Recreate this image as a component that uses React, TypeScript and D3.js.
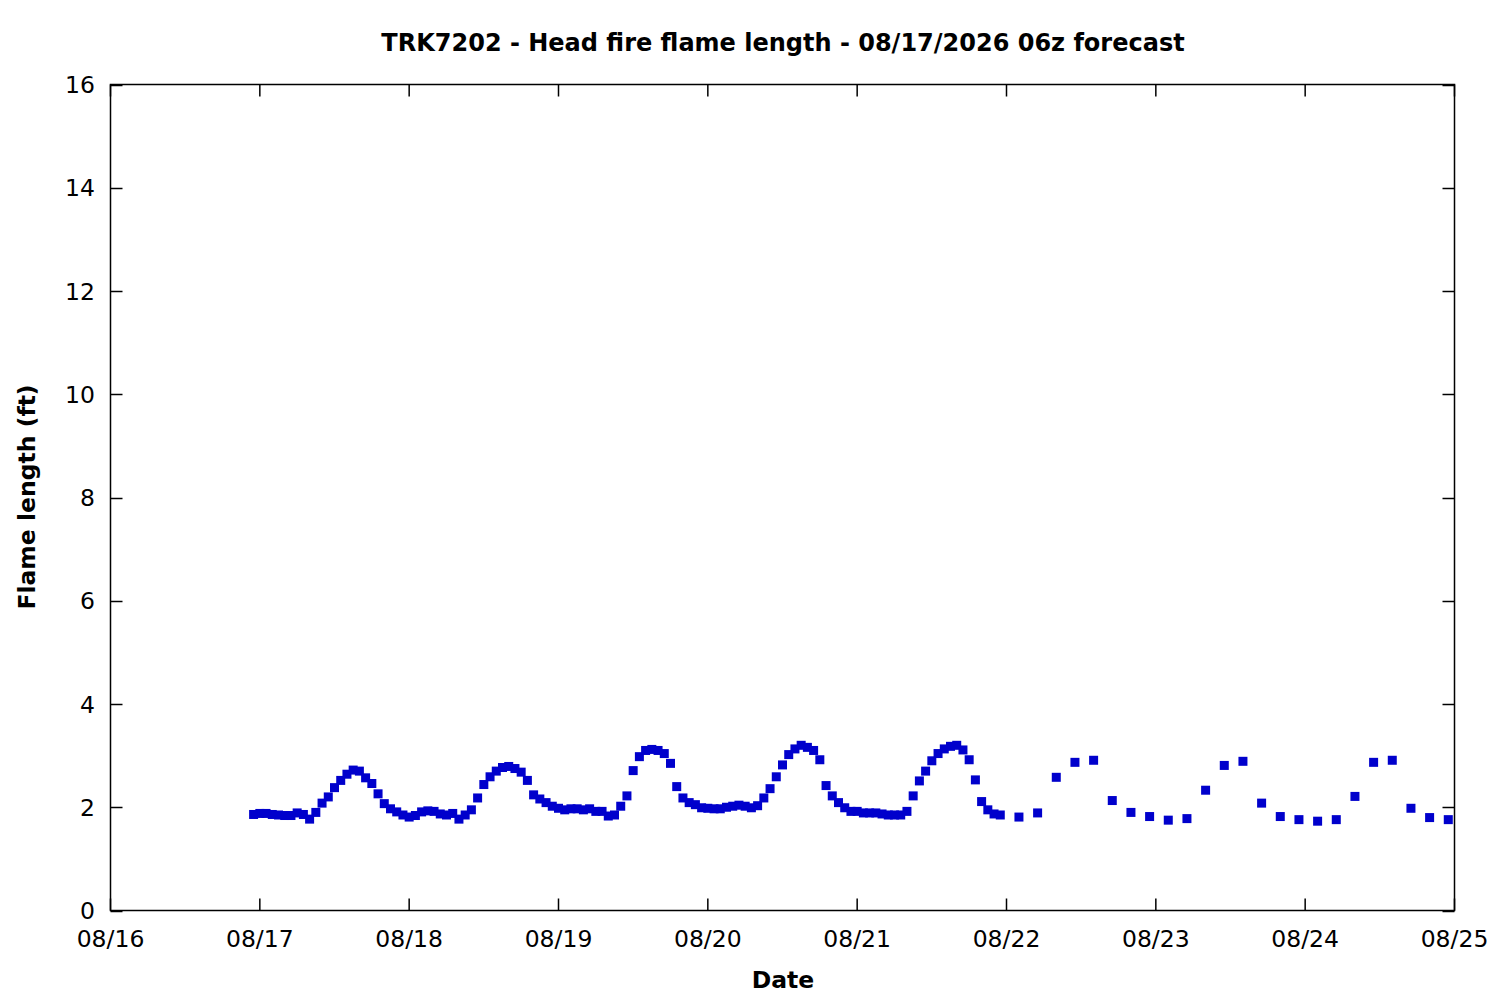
import React from "react";
import * as d3 from "d3";

// Hourly points starting 08/16 23:00 (hours since 08/16 00:00)
const hourlyStart = 23;
const hourlyValues = [
  1.86, 1.88, 1.88, 1.86, 1.85, 1.84, 1.84, 1.89, 1.86, 1.77,
  1.90, 2.08, 2.20, 2.38, 2.52, 2.64, 2.72, 2.70, 2.57, 2.46,
  2.26, 2.07, 1.97, 1.91, 1.85, 1.81, 1.84, 1.91, 1.93, 1.92,
  1.87, 1.85, 1.88, 1.77, 1.85, 1.95, 2.18, 2.44, 2.59, 2.70,
  2.77, 2.79, 2.75, 2.68, 2.52, 2.24, 2.16, 2.09, 2.02, 1.98,
  1.95, 1.97, 1.97, 1.95, 1.97, 1.92, 1.92, 1.83, 1.85, 2.02,
  2.22, 2.71, 2.98, 3.10, 3.12, 3.10, 3.04, 2.85, 2.40, 2.18,
  2.09, 2.05, 1.99, 1.98, 1.97, 1.97, 2.00, 2.02, 2.04, 2.02,
  1.99, 2.03, 2.18, 2.36, 2.59, 2.82, 3.02, 3.13, 3.20, 3.16,
  3.10, 2.92, 2.42, 2.22, 2.09, 1.99, 1.92, 1.92, 1.89, 1.89,
  1.89, 1.87, 1.85, 1.85, 1.85, 1.92, 2.22, 2.51, 2.70, 2.90,
  3.04, 3.13, 3.18, 3.20, 3.11, 2.92, 2.53, 2.11, 1.95, 1.87,
  1.85,
];
// 3-hourly points starting 08/22 02:00
const threeHourlyStart = 146;
const threeHourlyValues = [
  1.81, 1.89, 2.58, 2.87, 2.91, 2.13, 1.90, 1.82,
  1.75, 1.78, 2.33, 2.81, 2.89, 2.08, 1.82, 1.76,
  1.73, 1.76, 2.21, 2.87, 2.91, 1.98, 1.80, 1.76,
];
const dayLabels = ["08/16", "08/17", "08/18", "08/19", "08/20", "08/21", "08/22", "08/23", "08/24", "08/25"];
const yTicks = [0, 2, 4, 6, 8, 10, 12, 14, 16];
const title = "TRK7202 - Head fire flame length - 08/17/2026 06z forecast";
const xTitle = "Date";
const yTitle = "Flame length (ft)";

const W = 1500;
const H = 1000;
const left = 110.5;
const right = 1454.5;
const top = 84.5;
const bottom = 910.5;

export default function App() {
  const x = d3.scaleLinear().domain([0, 24 * (dayLabels.length - 1)]).range([left, right]);
  const y = d3.scaleLinear().domain([0, 16]).range([bottom, top]);

  const points: { h: number; v: number }[] = [];
  hourlyValues.forEach((v, i) => points.push({ h: hourlyStart + i, v }));
  threeHourlyValues.forEach((v, i) => points.push({ h: threeHourlyStart + 3 * i, v }));

  const font = "'DejaVu Sans', sans-serif";
  const tickLen = 12;
  const sq = 9;

  return (
    <svg width={W} height={H} style={{ position: "absolute", left: 0, top: 0, background: "#fff" }}>
      <rect x={0} y={0} width={W} height={H} fill="#fff" />
      <text x={783} y={51} textAnchor="middle" fontFamily={font} fontWeight="bold" fontSize={24}>
        {title}
      </text>
      {/* y ticks */}
      {yTicks.map((t) => (
        <g key={"y" + t}>
          <line x1={left} x2={left + tickLen} y1={Math.round(y(t)) + 0.5} y2={Math.round(y(t)) + 0.5} stroke="#000" strokeWidth={1.5} />
          <line x1={right} x2={right - tickLen} y1={Math.round(y(t)) + 0.5} y2={Math.round(y(t)) + 0.5} stroke="#000" strokeWidth={1.5} />
          <text x={95} y={y(t) + 8.5} textAnchor="end" fontFamily={font} fontSize={23.5}>
            {t}
          </text>
        </g>
      ))}
      {/* x ticks */}
      {dayLabels.map((d, i) => (
        <g key={"x" + d}>
          <line x1={x(i * 24)} x2={x(i * 24)} y1={bottom} y2={bottom - tickLen} stroke="#000" strokeWidth={1.5} />
          <line x1={x(i * 24)} x2={x(i * 24)} y1={top} y2={top + tickLen} stroke="#000" strokeWidth={1.5} />
          <text x={x(i * 24)} y={947} textAnchor="middle" fontFamily={font} fontSize={23.5}>
            {d}
          </text>
        </g>
      ))}
      <rect x={left} y={top} width={right - left} height={bottom - top} fill="none" stroke="#000" strokeWidth={1.5} />
      {points.map((p, i) => (
        <rect key={i} x={x(p.h) - sq / 2} y={y(p.v) - sq / 2} width={sq} height={sq} fill="#0000CC" />
      ))}
      <text x={783} y={988} textAnchor="middle" fontFamily={font} fontWeight="bold" fontSize={23.5}>
        {xTitle}
      </text>
      <text
        transform={`translate(35, 497) rotate(-90)`}
        textAnchor="middle"
        fontFamily={font}
        fontWeight="bold"
        fontSize={23.5}
      >
        {yTitle}
      </text>
    </svg>
  );
}
